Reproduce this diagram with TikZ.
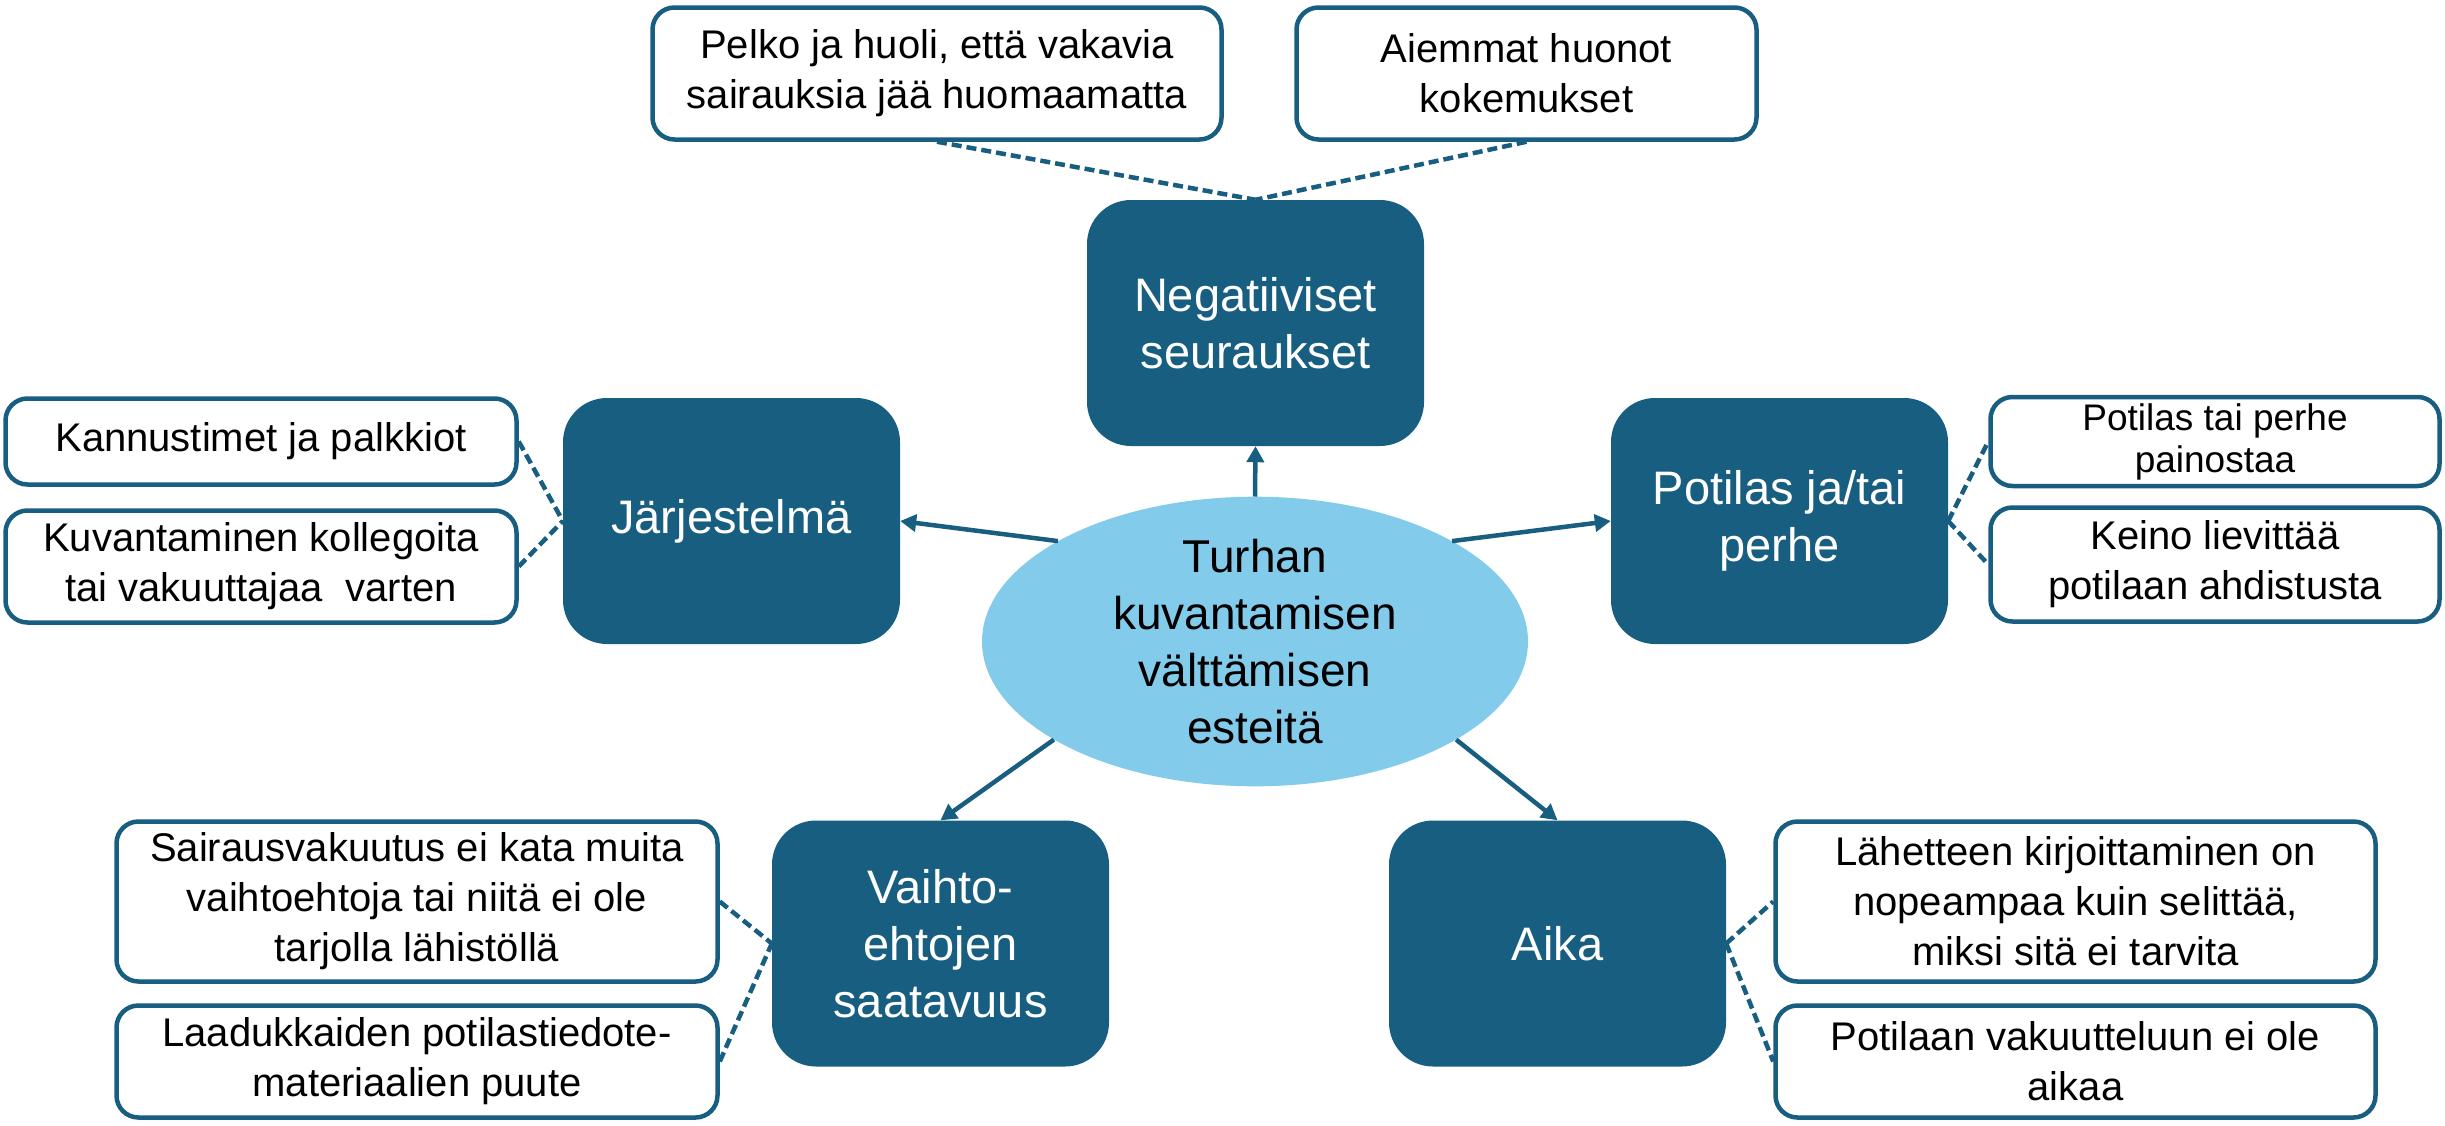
\documentclass[tikz,border=0pt]{standalone}
\usepackage{fontspec}
\setmainfont{Liberation Sans}
\usetikzlibrary{shapes.geometric,arrows.meta}
\definecolor{deepblue}{RGB}{24,94,128}
\definecolor{skyfill}{RGB}{131,203,235}
\begin{document}
\begin{tikzpicture}[x=1pt,y=-1pt,
  factor/.style={draw=deepblue, line width=4.5pt, fill=white, rounded corners=22pt,
    align=center, inner sep=0pt, text=black, font=\fontsize{40}{50}\selectfont},
  tight/.style={font=\fontsize{37}{42}\selectfont},
  theme/.style={fill=deepblue, rounded corners=44pt, minimum width=337pt,
    minimum height=246pt, align=center, inner sep=0pt, text=white,
    font=\fontsize{47}{57}\selectfont},
  hub/.style={ellipse, fill=skyfill, minimum width=546pt, minimum height=267pt,
    inner sep=0pt, align=center, text=black, font=\fontsize{46}{57}\selectfont},
  link/.style={draw=deepblue, line width=4.5pt, -{Triangle[length=16pt,width=17pt]}},
  tie/.style={draw=deepblue, line width=4.5pt, dash pattern=on 10pt off 5pt}
]
\useasboundingbox (0,0) rectangle (2445,1125);

% central topic
\node[hub] (c) at (1255,641.5) {Turhan\\kuvantamisen\\välttämisen\\esteitä};

% main barrier categories
\node[theme] (neg)  at (1255.5,323)   {Negatiiviset\\seuraukset};
\node[theme] (sys)  at (731.5,521)    {Järjestelmä};
\node[theme] (pat)  at (1779.5,521)   {Potilas ja/tai\\perhe};
\node[theme] (alt)  at (940.5,943.5)  {Vaihto-\\ehtojen\\saatavuus};
\node[theme] (time) at (1557.5,943.5) {Aika};

% detail boxes
\node[factor, minimum width=569pt, minimum height=132pt] (pelko) at (937,73.5)
  {Pelko ja huoli, että vakavia\\sairauksia jää huomaamatta};
\node[factor, minimum width=460pt, minimum height=132pt] (aiem) at (1526.5,73.5)
  {Aiemmat huonot\\kokemukset};
\node[factor, minimum width=511pt, minimum height=86pt] (kann) at (261,441.5)
  {Kannustimet ja palkkiot};
\node[factor, minimum width=511pt, minimum height=112pt] (kuva) at (261,566.5)
  {Kuvantaminen kollegoita\\tai vakuuttajaa\ \ varten};
\node[factor, tight, minimum width=449pt, minimum height=89pt] (pain) at (2215,441.5)
  {Potilas tai perhe\\painostaa};
\node[factor, minimum width=449pt, minimum height=114pt] (kein) at (2215,564.5)
  {Keino lievittää\\potilaan ahdistusta};
\node[factor, minimum width=601pt, minimum height=160pt] (sair) at (417,901.5)
  {Sairausvakuutus ei kata muita\\vaihtoehtoja tai niitä ei ole\\tarjolla lähistöllä};
\node[factor, minimum width=601pt, minimum height=112pt] (laad) at (417,1061.5)
  {Laadukkaiden potilastiedote-\\materiaalien puute};
\node[factor, minimum width=600pt, minimum height=160pt] (lahe) at (2075.5,901.5)
  {Lähetteen kirjoittaminen on\\nopeampaa kuin selittää,\\miksi sitä ei tarvita};
\node[factor, minimum width=600pt, minimum height=112pt] (vaku) at (2075.5,1061.5)
  {Potilaan vakuutteluun ei ole\\aikaa};

% arrows from the central topic
\draw[link] (c.90)  -- (neg.south);
\draw[link] (c.153) -- (sys.east);
\draw[link] (c.27)  -- (pat.west);
\draw[link] (c.206) -- (alt.north);
\draw[link] (c.334) -- (time.north);

% dashed ties to the details
\draw[tie] (pelko.south) -- (neg.north);
\draw[tie] (aiem.south)  -- (neg.north);
\draw[tie] (kann.east) -- (sys.west);
\draw[tie] (kuva.east) -- (sys.west);
\draw[tie] (pat.east) -- (pain.west);
\draw[tie] (pat.east) -- (kein.west);
\draw[tie] (sair.east) -- (alt.west);
\draw[tie] (laad.east) -- (alt.west);
\draw[tie] (time.east) -- (lahe.west);
\draw[tie] (time.east) -- (vaku.west);
\end{tikzpicture}
\end{document}
